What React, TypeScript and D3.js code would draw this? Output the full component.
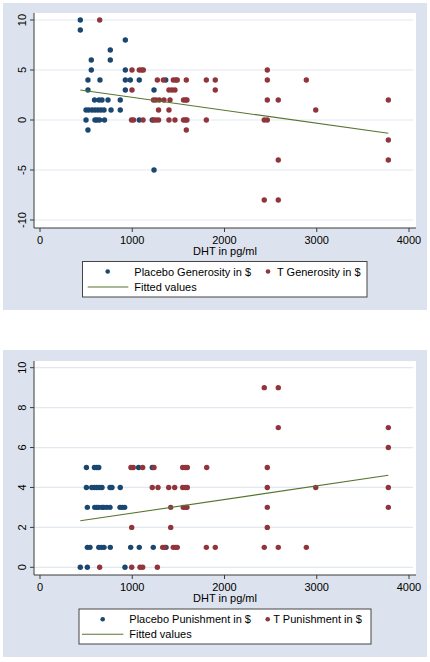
import React from "react";
import * as d3 from "d3";

// ---------- DATA ----------
// Top panel: Generosity ($) vs DHT (pg/ml)
const placeboGenerosity: [number, number][] = [
  [437, 10], [437, 9], [925, 8], [762, 7], [556, 6], [762, 6],
  [556, 5], [925, 5],
  [520, 4], [650, 4], [925, 4], [979, 4], [1076, 4], [1363, 4],
  [520, 3], [925, 3], [1236, 3],
  [591, 2], [640, 2], [672, 2], [737, 2], [870, 2],
  [499, 1], [528, 1], [564, 1], [596, 1], [629, 1], [661, 1], [694, 1], [770, 1], [870, 1],
  [499, 0], [596, 0], [618, 0], [645, 0], [699, 0], [1076, 0], [1217, 0],
  [520, -1], [1236, -5],
];
const tGenerosity: [number, number][] = [
  [647, 10],
  [997, 5], [1076, 5], [1102, 5], [1120, 5], [2464, 5],
  [1272, 4], [1337, 4], [1445, 4], [1471, 4], [1488, 4], [1586, 4], [1803, 4], [1900, 4], [2464, 4], [2887, 4],
  [997, 3], [1398, 3], [1431, 3], [1463, 3], [1900, 3],
  [1230, 2], [1257, 2], [1293, 2], [1344, 2], [1409, 2], [1556, 2], [1577, 2], [1593, 2], [2464, 2], [2583, 2], [3776, 2],
  [1285, 1], [1398, 1], [2989, 1],
  [992, 0], [1014, 0], [1117, 0], [1230, 0], [1257, 0], [1285, 0], [1398, 0], [1463, 0], [1556, 0], [1577, 0], [1593, 0], [1803, 0], [2431, 0], [2464, 0],
  [1586, -1], [3776, -2], [2583, -4], [3776, -4], [2431, -8], [2583, -8],
];
const fitGenerosity: [number, number][] = [[437, 3.0], [3776, -1.33]];

// Bottom panel: Punishment ($) vs DHT (pg/ml)
const placeboPunishment: [number, number][] = [
  [503, 5], [590, 5], [616, 5], [637, 5], [1069, 5], [1217, 5],
  [503, 4], [561, 4], [590, 4], [616, 4], [643, 4], [672, 4], [759, 4], [780, 4], [870, 4],
  [513, 3], [593, 3], [616, 3], [637, 3], [672, 3], [691, 3], [723, 3], [759, 3], [867, 3], [892, 3], [918, 3],
  [513, 1], [542, 1], [637, 1], [665, 1], [694, 1], [762, 1], [983, 1], [1076, 1], [1228, 1], [1366, 1],
  [437, 0], [513, 0], [921, 0],
];
const tPunishment: [number, number][] = [
  [2431, 9], [2583, 9], [2583, 7], [3776, 7], [3776, 6],
  [986, 5], [1011, 5], [1113, 5], [1236, 5], [1547, 5], [1575, 5], [1597, 5], [1807, 5], [2464, 5],
  [1217, 4], [1279, 4], [1395, 4], [1460, 4], [1547, 4], [1575, 4], [1597, 4], [2464, 4], [2989, 4], [3776, 4],
  [1417, 3], [1553, 3], [1575, 3], [1593, 3], [2464, 3], [3776, 3],
  [994, 2], [1417, 2], [2464, 2],
  [1330, 1], [1352, 1], [1445, 1], [1471, 1], [1488, 1], [1803, 1], [1900, 1], [2431, 1], [2583, 1], [2887, 1],
  [647, 0], [994, 0], [1084, 0], [1113, 0], [1272, 0],
];
const fitPunishment: [number, number][] = [[437, 2.33], [3776, 4.61]];

const xTicks = [0, 1000, 2000, 3000, 4000];
const yTicksTop = [-10, -5, 0, 5, 10];
const yTicksBottom = [0, 2, 4, 6, 8, 10];
const xTitle = "DHT in pg/ml";
const legendTop = ["Placebo Generosity in $", "T Generosity in $", "Fitted values"];
const legendBottom = ["Placebo Punishment in $", "T Punishment in $", "Fitted values"];

// ---------- STYLE ----------
const NAVY = "#1a476f";
const MAROON = "#90353b";
const GREEN = "#55752f";
const BG = "#dde3ee";
const GRID = "#e2e8f0";
const AXIS = "#3a3a3a";
const FONT = "'Liberation Sans', Arial, sans-serif";

type PanelProps = {
  top: number;
  bottom: number;
  plotTop: number;
  axisY: number;
  yDomain: [number, number];
  yRange: [number, number];
  yTicks: number[];
  placebo: [number, number][];
  treat: [number, number][];
  fit: [number, number][];
  legend: string[];
  legendBox: { x0: number; x1: number; y0: number; y1: number; dotX: number; textX: number; dot2X: number; text2X: number; lineX0: number; lineX1: number; row1: number; row2: number };
};

const xScale = d3.scaleLinear().domain([0, 4000]).range([40, 409]);

function Panel(p: PanelProps) {
  const y = d3.scaleLinear().domain(p.yDomain).range(p.yRange);
  const line = d3
    .line<[number, number]>()
    .x((d) => xScale(d[0]))
    .y((d) => y(d[1]));
  const plotLeft = 34;
  const plotRight = 416;
  const lb = p.legendBox;
  return (
    <g>
      <rect x={3} y={p.top} width={424} height={p.bottom - p.top} fill={BG} />
      <rect x={plotLeft} y={p.plotTop} width={plotRight - plotLeft} height={p.axisY - p.plotTop} fill="#fff" />
      {p.yTicks.map((t) => (
        <line key={"g" + t} x1={plotLeft} x2={plotRight - 3} y1={y(t)} y2={y(t)} stroke={GRID} strokeWidth={1.2} />
      ))}
      <line x1={plotLeft} x2={plotLeft} y1={p.plotTop} y2={p.axisY} stroke={AXIS} strokeWidth={1} />
      <line x1={plotLeft} x2={plotRight} y1={p.axisY} y2={p.axisY} stroke={AXIS} strokeWidth={1} />
      {p.yTicks.map((t) => (
        <g key={"yt" + t}>
          <line x1={plotLeft - 4} x2={plotLeft} y1={y(t)} y2={y(t)} stroke={AXIS} />
          <text
            transform={`translate(${25.5},${y(t)}) rotate(-90)`}
            textAnchor="middle"
            fontSize={11}
            fontFamily={FONT}
            fill="#000"
          >
            {t}
          </text>
        </g>
      ))}
      {xTicks.map((t) => (
        <g key={"xt" + t}>
          <line x1={xScale(t)} x2={xScale(t)} y1={p.axisY} y2={p.axisY + 4} stroke={AXIS} />
          <text x={xScale(t)} y={p.axisY + 15.5} textAnchor="middle" fontSize={11} fontFamily={FONT} fill="#000">
            {t}
          </text>
        </g>
      ))}
      <text x={225} y={p.axisY + 26.5} textAnchor="middle" fontSize={11} fontFamily={FONT} fill="#000">
        {xTitle}
      </text>
      {p.placebo.map((d, i) => (
        <circle key={"p" + i} cx={xScale(d[0])} cy={y(d[1])} r={2.7} fill={NAVY} />
      ))}
      {p.treat.map((d, i) => (
        <circle key={"t" + i} cx={xScale(d[0])} cy={y(d[1])} r={2.7} fill={MAROON} />
      ))}
      <path d={line(p.fit) || ""} fill="none" stroke={GREEN} strokeWidth={1.1} />
      <rect x={lb.x0} y={lb.y0} width={lb.x1 - lb.x0} height={lb.y1 - lb.y0} fill="#fff" stroke="#444" strokeWidth={1} />
      <circle cx={lb.dotX} cy={lb.row1} r={2.3} fill={NAVY} />
      <text x={lb.textX} y={lb.row1 + 4} fontSize={11} fontFamily={FONT} fill="#000">
        {p.legend[0]}
      </text>
      <circle cx={lb.dot2X} cy={lb.row1} r={2.3} fill={MAROON} />
      <text x={lb.text2X} y={lb.row1 + 4} fontSize={11} fontFamily={FONT} fill="#000">
        {p.legend[1]}
      </text>
      <line x1={lb.lineX0} x2={lb.lineX1} y1={lb.row2} y2={lb.row2} stroke={GREEN} strokeWidth={1.1} />
      <text x={lb.textX} y={lb.row2 + 4} fontSize={11} fontFamily={FONT} fill="#000">
        {p.legend[2]}
      </text>
    </g>
  );
}

export default function App() {
  return (
    <svg
      width={430}
      height={662}
      style={{ position: "absolute", left: 0, top: 0, background: "#fff" }}
    >
      <rect x={0} y={0} width={430} height={662} fill="#fff" />
      <Panel
        top={3}
        bottom={310}
        plotTop={13}
        axisY={228}
        yDomain={[-10, 10]}
        yRange={[220, 20]}
        yTicks={yTicksTop}
        placebo={placeboGenerosity}
        treat={tGenerosity}
        fit={fitGenerosity}
        legend={legendTop}
        legendBox={{ x0: 82.5, x1: 367, y0: 261.5, y1: 297, dotX: 107.7, textX: 134.3, dot2X: 268, text2X: 277, lineX0: 87.7, lineX1: 128.3, row1: 271.5, row2: 287 }}
      />
      <Panel
        top={350}
        bottom={657}
        plotTop={361}
        axisY={575}
        yDomain={[0, 10]}
        yRange={[567.3, 367.7]}
        yTicks={yTicksBottom}
        placebo={placeboPunishment}
        treat={tPunishment}
        fit={fitPunishment}
        legend={legendBottom}
        legendBox={{ x0: 79, x1: 371, y0: 609, y1: 644, dotX: 102.7, textX: 129.3, dot2X: 267.7, text2X: 273.3, lineX0: 82, lineX1: 123.3, row1: 619.3, row2: 634.3 }}
      />
    </svg>
  );
}
